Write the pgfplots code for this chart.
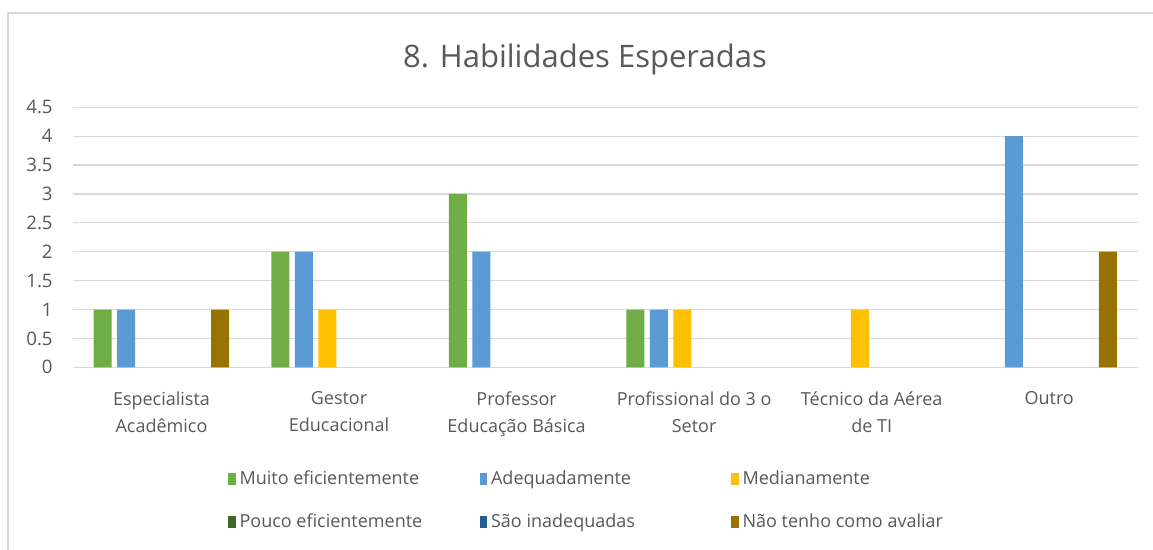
\documentclass[border=0pt]{standalone}
\usepackage{fontspec}
\setmainfont{Open Sans}
\usepackage{pgfplots}
\pgfplotsset{compat=1.18}

\definecolor{muito}{HTML}{70AD47}
\definecolor{adequ}{HTML}{5B9BD5}
\definecolor{media}{HTML}{FFC000}
\definecolor{pouco}{HTML}{43682B}
\definecolor{inade}{HTML}{255E91}
\definecolor{naoav}{HTML}{997300}
\definecolor{gridc}{HTML}{D9D9D9}
\definecolor{txt}{HTML}{595959}

\begin{document}
\begin{tikzpicture}
% canvas: 1px = 0.5pt
\path[use as bounding box, fill=white] (0,0) rectangle (576.5pt,275pt);
\draw[gridc, line width=1pt] (3.75pt,0) -- (3.75pt,268.5pt) -- (576.5pt,268.5pt);
\node[text=txt, font=\fontsize{15.5}{18}\selectfont] at (292.5pt,245.5pt) {8. Habilidades Esperadas};

\begin{axis}[
  at={(36.35pt,91.35pt)}, anchor=south west,
  scale only axis, width=532.65pt, height=130pt,
  xmin=-0.5, xmax=5.5, ymin=0, ymax=4.5,
  xtick={0,1,2,3,4,5},
  xticklabels={{Especialista\\Acadêmico},{Gestor\\Educacional},{Professor\\Educação Básica},{Profissional do 3 o\\Setor},{Técnico da Aérea\\de TI},{Outro}},
  ytick={0,0.5,1,1.5,2,2.5,3,3.5,4,4.5},
  yticklabels={0,0.5,1,1.5,2,2.5,3,3.5,4,4.5},
  xticklabel style={align=center, anchor=north, yshift=-8.5pt, text=txt,
    font=\fontsize{9}{13.5}\selectfont},
  yticklabel style={text=txt, font=\fontsize{9.3}{11}\selectfont, xshift=-6.5pt},
  axis line style={draw=none},
  tick style={draw=none},
  ymajorgrids, grid style={gridc, line width=0.6pt},
  bar width=9pt,
  legend columns=3,
  legend style={at={(0.5,-0.512)}, anchor=center, draw=none, fill=none,
    font=\fontsize{9}{11}\selectfont, text=txt, row sep=9pt, column sep=0pt},
  legend cell align=left,
  legend image code/.code={\fill[#1] (0pt,-3.1pt) rectangle (3.75pt,3.1pt);},
]
\addplot[ybar, bar shift=-29.375pt, fill=muito, draw=none]
  coordinates {(0,1) (1,2) (2,3) (3,1)};
\addlegendentry{\makebox[118pt][l]{Muito eficientemente}}
\addplot[ybar, bar shift=-17.625pt, fill=adequ, draw=none]
  coordinates {(0,1) (1,2) (2,2) (3,1) (5,4)};
\addlegendentry{\makebox[118pt][l]{Adequadamente}}
\addplot[ybar, bar shift=-5.875pt, fill=media, draw=none]
  coordinates {(1,1) (3,1) (4,1)};
\addlegendentry{\makebox[118pt][l]{Medianamente}}
% no answers for these two
\addlegendimage{fill=pouco, draw=none}
\addlegendentry{\makebox[118pt][l]{Pouco eficientemente}}
\addlegendimage{fill=inade, draw=none}
\addlegendentry{\makebox[118pt][l]{São inadequadas}}
\addplot[ybar, bar shift=29.375pt, fill=naoav, draw=none]
  coordinates {(0,1) (5,2)};
\addlegendentry{\makebox[118pt][l]{Não tenho como avaliar}}
\end{axis}
\end{tikzpicture}
\end{document}
